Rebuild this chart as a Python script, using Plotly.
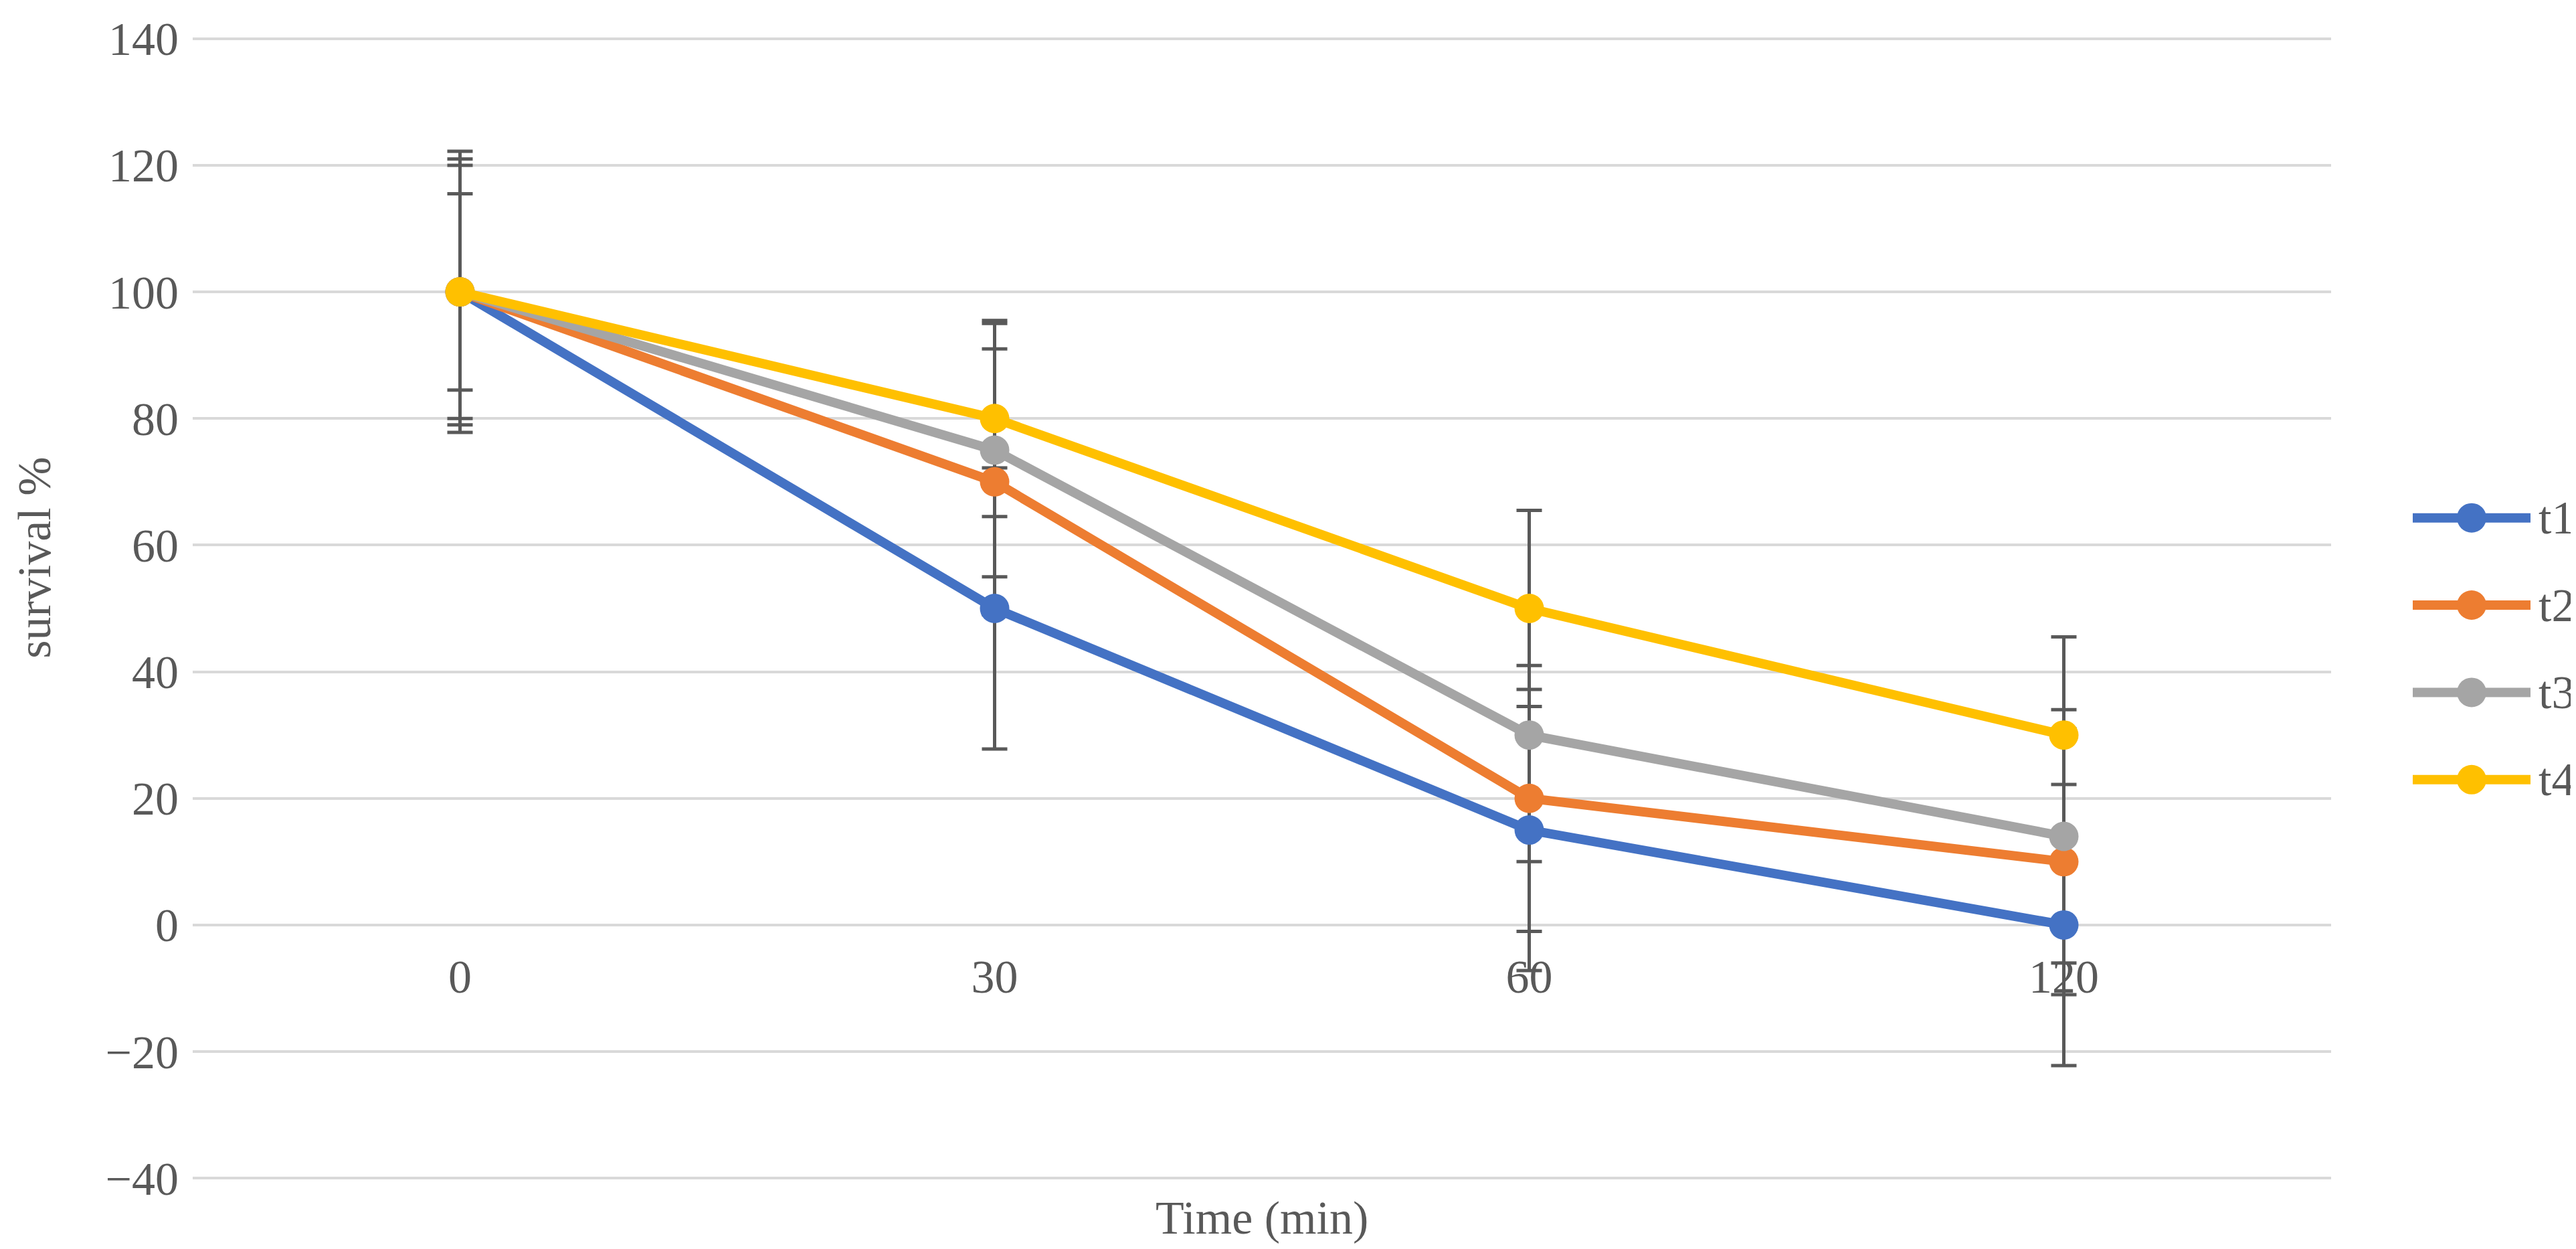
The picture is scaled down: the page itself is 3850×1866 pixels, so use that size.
import plotly.graph_objects as go

# survival (%) per time point
time_labels = ["0", "30", "60", "120"]
series_names = ["t1", "t2", "t3", "t4"]
t1 = [100, 50, 15, 0]
t2 = [100, 70, 20, 10]
t3 = [100, 75, 30, 14]
t4 = [100, 80, 50, 30]
t1_err = [22.2, 22.2, 22.2, 22.2]
t2_err = [21.0, 21.0, 21.0, 21.0]
t3_err = [20.0, 20.0, 20.0, 20.0]
t4_err = [15.5, 15.5, 15.5, 15.5]

colors = ["#4472C4", "#ED7D31", "#A5A5A5", "#FFC000"]
values = [t1, t2, t3, t4]
errors = [t1_err, t2_err, t3_err, t4_err]

FONT = "Liberation Serif, Times New Roman, serif"
TXT = "#595959"
GRID = "#D9D9D9"
Y_MIN, Y_MAX = -40.5, 140.5

W, H = 3850, 1866
M_L, M_R, M_T, M_B = 280, 374, 37, 109
plot_w = W - M_L - M_R
plot_h = H - M_T - M_B


def px_x(px):
    return (px - M_L) / plot_w


def px_y(py):
    return 1 - (py - M_T) / plot_h


fig = go.Figure()

# error bars first, so every marker sits on top of them
for name, ys, err in zip(series_names, values, errors):
    fig.add_trace(go.Scatter(
        x=time_labels, y=ys, mode="markers",
        marker=dict(size=1, opacity=0),
        error_y=dict(type="data", array=err, symmetric=True,
                     color="#595959", thickness=5, width=19),
        showlegend=False, hoverinfo="skip",
    ))

for i, (name, ys) in enumerate(zip(series_names, values)):
    fig.add_trace(go.Scatter(
        x=time_labels, y=ys, name=name, mode="lines+markers",
        line=dict(color=colors[i], width=14),
        marker=dict(color=colors[i], size=44),
        showlegend=False,
    ))

# legend drawn by hand: plotly caps legend line width / marker size
shapes, annotations = [], []
leg_x0, leg_x1, leg_top, leg_step = 3598, 3774, 761, 131
for i, name in enumerate(series_names):
    ay = px_y(leg_top + i * leg_step)
    shapes.append(dict(
        type="line", xref="paper", yref="paper",
        xsizemode="pixel", ysizemode="pixel",
        xanchor=px_x(leg_x0), yanchor=ay,
        x0=0, x1=leg_x1 - leg_x0, y0=0, y1=0,
        line=dict(color=colors[i], width=14),
    ))
    shapes.append(dict(
        type="circle", xref="paper", yref="paper",
        xsizemode="pixel", ysizemode="pixel",
        xanchor=px_x((leg_x0 + leg_x1) / 2), yanchor=ay,
        x0=-22, x1=22, y0=-22, y1=22,
        fillcolor=colors[i], line=dict(width=0),
    ))
    annotations.append(dict(
        text=name, showarrow=False, xref="paper", yref="paper",
        x=px_x(leg_x1 + 10), y=ay, xanchor="left", yanchor="middle",
        font=dict(family=FONT, size=70, color=TXT),
    ))

annotations += [
    dict(text="survival %", textangle=-90, showarrow=False,
         xref="paper", yref="y", x=-0.074, y=58,
         xanchor="center", yanchor="middle",
         font=dict(family=FONT, size=70, color=TXT)),
    dict(text="Time (min)", showarrow=False,
         xref="paper", yref="paper", x=0.5, y=-0.032,
         xanchor="center", yanchor="middle",
         font=dict(family=FONT, size=70, color=TXT)),
]

fig.update_layout(
    width=W, height=H,
    margin=dict(l=M_L, r=M_R, t=M_T, b=M_B),
    plot_bgcolor="white", paper_bgcolor="white",
    font=dict(family=FONT, size=70, color=TXT),
    showlegend=False,
    xaxis=dict(
        type="category", range=[-0.5, 3.5],
        showgrid=False, showline=False, zeroline=False, ticks="",
        anchor="free", position=(0 - Y_MIN) / (Y_MAX - Y_MIN),
        ticklabelstandoff=30,
        tickfont=dict(family=FONT, size=70, color=TXT),
    ),
    yaxis=dict(
        range=[Y_MIN, Y_MAX], dtick=20, tick0=0,
        showgrid=True, gridcolor=GRID, gridwidth=4,
        zeroline=True, zerolinecolor=GRID, zerolinewidth=4,
        showline=False, ticks="", ticklabelstandoff=20,
        tickfont=dict(family=FONT, size=70, color=TXT),
    ),
    shapes=shapes,
    annotations=annotations,
)

fig.write_html("out.html")
